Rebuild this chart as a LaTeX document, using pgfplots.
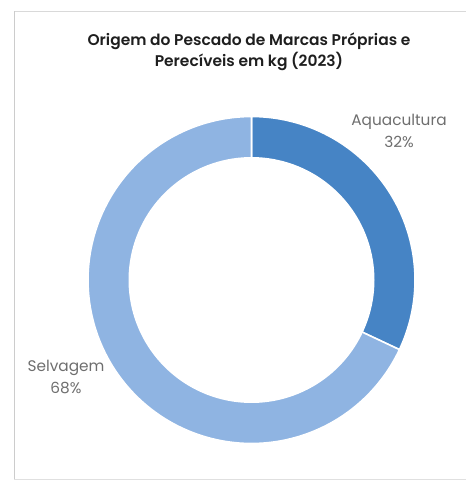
\documentclass[border=0pt]{standalone}
\usepackage{pgfplots}
\pgfplotsset{compat=1.18}
\usepackage{fontspec}
\setmainfont{Poppins}[BoldFont={Poppins SemiBold}]
\definecolor{aqua}{RGB}{70,132,197}
\definecolor{selv}{RGB}{143,180,226}
\definecolor{lbl}{RGB}{110,110,110}
\definecolor{ttl}{RGB}{30,30,30}
\begin{document}
\begin{tikzpicture}
\def\vA{32}\def\vB{68}
\pgfmathsetmacro{\aS}{90}
\pgfmathsetmacro{\aE}{90-360*(\vA/(\vA+\vB))}
\pgfmathsetmacro{\bE}{\aE-360*(\vB/(\vA+\vB))}
\begin{axis}[width=349.5pt,height=361.5pt,scale only axis,
  xmin=0,xmax=466,ymin=0,ymax=482,y dir=reverse,hide axis,clip=false]
\path (axis cs:0,0) -- (axis cs:466,482);
\addplot[fill=aqua,draw=white,line width=1.2pt,domain=\aE:\aS,samples=80,variable=\t]
  ({251.5+163.5*cos(\t)},{280-163.5*sin(\t)}) -- (axis cs:251.5,280) -- cycle;
\addplot[fill=selv,draw=white,line width=1.2pt,domain=\bE:\aE,samples=150,variable=\t]
  ({251.5+163.5*cos(\t)},{280-163.5*sin(\t)}) -- (axis cs:251.5,280) -- cycle;
\addplot[fill=white,draw=none,domain=0:360,samples=150,variable=\t]
  ({251.5+123*cos(\t)},{280-123*sin(\t)}) -- cycle;
\draw[line width=0.75pt,black!15] (axis cs:14,11) -- (axis cs:466,11);
\draw[line width=0.75pt,black!20] (axis cs:14,11) -- (axis cs:14,479);
\draw[line width=0.75pt,black!12] (axis cs:14,479) -- (axis cs:466,479);
\node[align=center,font=\fontsize{11.6pt}{15.75pt}\selectfont\bfseries,text=ttl] at (axis cs:249,52)
  {Origem do Pescado de Marcas Próprias e\\Perecíveis em kg (2023)};
\node[align=center,font=\fontsize{11.5pt}{16.5pt}\selectfont,text=lbl] at (axis cs:399,131)
  {Aquacultura\\32\%};
\node[align=center,font=\fontsize{11.5pt}{16.5pt}\selectfont,text=lbl] at (axis cs:66,377)
  {Selvagem\\68\%};
\end{axis}
\end{tikzpicture}
\end{document}
